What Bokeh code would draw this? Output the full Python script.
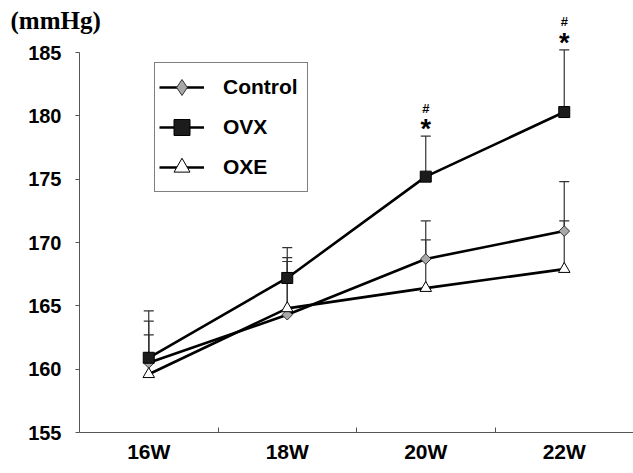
import math
from bokeh.plotting import figure
from bokeh.models import (Range1d, FixedTicker, Legend, LegendItem, ColumnDataSource,
                          Whisker, TeeHead, Title)
from bokeh.embed import file_html
from bokeh.resources import INLINE
from bokeh.core.properties import value

# ---------------- data ----------------
weeks = ["16W", "18W", "20W", "22W"]
control = [160.5, 164.3, 168.7, 170.9]
control_err = [163.8, 168.5, 171.7, 174.8]
ovx = [160.9, 167.2, 175.2, 180.3]
ovx_err = [164.6, 169.6, 178.4, 185.2]
oxe = [159.6, 164.8, 166.4, 167.9]
oxe_err = [162.7, 168.8, 170.2, 171.7]
sig_weeks = ["20W", "22W"]
y_ticks = [155, 160, 165, 170, 175, 180, 185]
unit_label = "(mmHg)"

# numeric category positions (centers) and boundaries
xs = [i + 0.5 for i in range(len(weeks))]
bounds = [float(i) for i in range(1, len(weeks))]

p = figure(width=633, height=473, x_range=Range1d(0, len(weeks)),
           y_range=Range1d(155, 188), output_backend="svg", toolbar_location=None,
           min_border_left=79, min_border_right=0, min_border_top=14, min_border_bottom=41)
p.outline_line_color = None
p.xgrid.visible = False
p.ygrid.visible = False
p.background_fill_color = "white"
p.border_fill_color = "white"

# ---------------- unit label (as a title, shifted to the left edge) ----------------
p.add_layout(Title(text=unit_label, align="left", offset=-69, standoff=-38,
                   vertical_align="bottom", text_font="Liberation Serif",
                   text_font_style="bold", text_font_size="25px",
                   text_color="black"), "above")

# ---------------- error bars ----------------
for vals, errs in [(control, control_err), (ovx, ovx_err), (oxe, oxe_err)]:
    src = ColumnDataSource(dict(x=xs, lo=vals, hi=errs))
    w = Whisker(base="x", lower="lo", upper="hi", source=src, dimension="height",
                line_color="#333333", line_width=1.2, lower_head=None,
                upper_head=TeeHead(size=10, line_color="#333333", line_width=1.2),
                level="underlay")
    p.add_layout(w)

# ---------------- lines ----------------
l_ovx = p.line(xs, ovx, line_color="black", line_width=2.6)
l_ctl = p.line(xs, control, line_color="black", line_width=2.6)
l_oxe = p.line(xs, oxe, line_color="black", line_width=2.6)

# ---------------- markers ----------------
m_ctl = p.scatter(xs, control, marker="square", angle=math.pi / 4, size=7.5,
                  fill_color="#a8a8a8", line_color="#333333", line_width=1)
m_ovx = p.scatter(xs, ovx, marker="square", size=11,
                  fill_color="#1c1c1c", line_color="black", line_width=1)
m_oxe = p.scatter(xs, oxe, marker="triangle", size=11.5,
                  fill_color="white", line_color="black", line_width=1)

# legend-only diamond for Control (legend draws markers unrotated)
leg_ctl = p.scatter(x=[float("nan")], y=[float("nan")], marker="diamond", size=10,
                    fill_color="#a8a8a8", line_color="#333333", line_width=1)

# ---------------- significance marks ----------------
sig_x = [xs[weeks.index(w)] for w in sig_weeks]
sig_y = [ovx_err[weeks.index(w)] for w in sig_weeks]
p.text(sig_x, sig_y, text=["*"] * len(sig_x), text_align="center",
       text_baseline="alphabetic", y_offset=-7, text_font=value("Liberation Sans"),
       text_font_style="bold", text_font_size="27px", text_color="black")
p.text(sig_x, sig_y, text=["#"] * len(sig_x), text_align="center",
       text_baseline="alphabetic", y_offset=-28, text_font=value("Liberation Sans"),
       text_font_style="bold", text_font_size="13px", text_color="black")

# ---------------- axes ----------------
yax = p.yaxis[0]
yax.ticker = FixedTicker(ticks=y_ticks)
yax.bounds = (155, 185)
yax.major_tick_in = 0
yax.major_tick_out = 4
yax.minor_tick_line_color = None
yax.axis_line_color = "#555555"
yax.major_tick_line_color = "#555555"
yax.major_label_text_font = "Liberation Sans"
yax.major_label_text_font_style = "bold"
yax.major_label_text_font_size = "20px"
yax.major_label_text_color = "black"
yax.major_label_standoff = 14

xax = p.xaxis[0]
xax.ticker = FixedTicker(ticks=xs, minor_ticks=bounds)
xax.major_label_overrides = {x: w for x, w in zip(xs, weeks)}
xax.major_tick_in = 0
xax.major_tick_out = 0
xax.minor_tick_in = 5
xax.minor_tick_out = 0
xax.minor_tick_line_color = "#555555"
xax.axis_line_color = "#555555"
xax.major_label_text_font = "Liberation Sans"
xax.major_label_text_font_style = "bold"
xax.major_label_text_font_size = "21px"
xax.major_label_text_color = "black"
xax.major_label_standoff = 7

# ---------------- legend ----------------
legend = Legend(items=[
    LegendItem(label="Control", renderers=[l_ctl, leg_ctl]),
    LegendItem(label="OVX", renderers=[l_ovx, m_ovx]),
    LegendItem(label="OXE", renderers=[l_oxe, m_oxe]),
], location=(75, 240), orientation="vertical",
   glyph_width=45, glyph_height=40, spacing=0, padding=4, margin=0,
   label_standoff=19, label_width=80,
   label_text_font="Liberation Sans", label_text_font_style="bold",
   label_text_font_size="21px", label_text_color="black",
   border_line_color="black", border_line_width=1.5,
   background_fill_color="white", background_fill_alpha=1.0)
p.add_layout(legend)

open("out.html", "w").write(file_html(p, INLINE))
